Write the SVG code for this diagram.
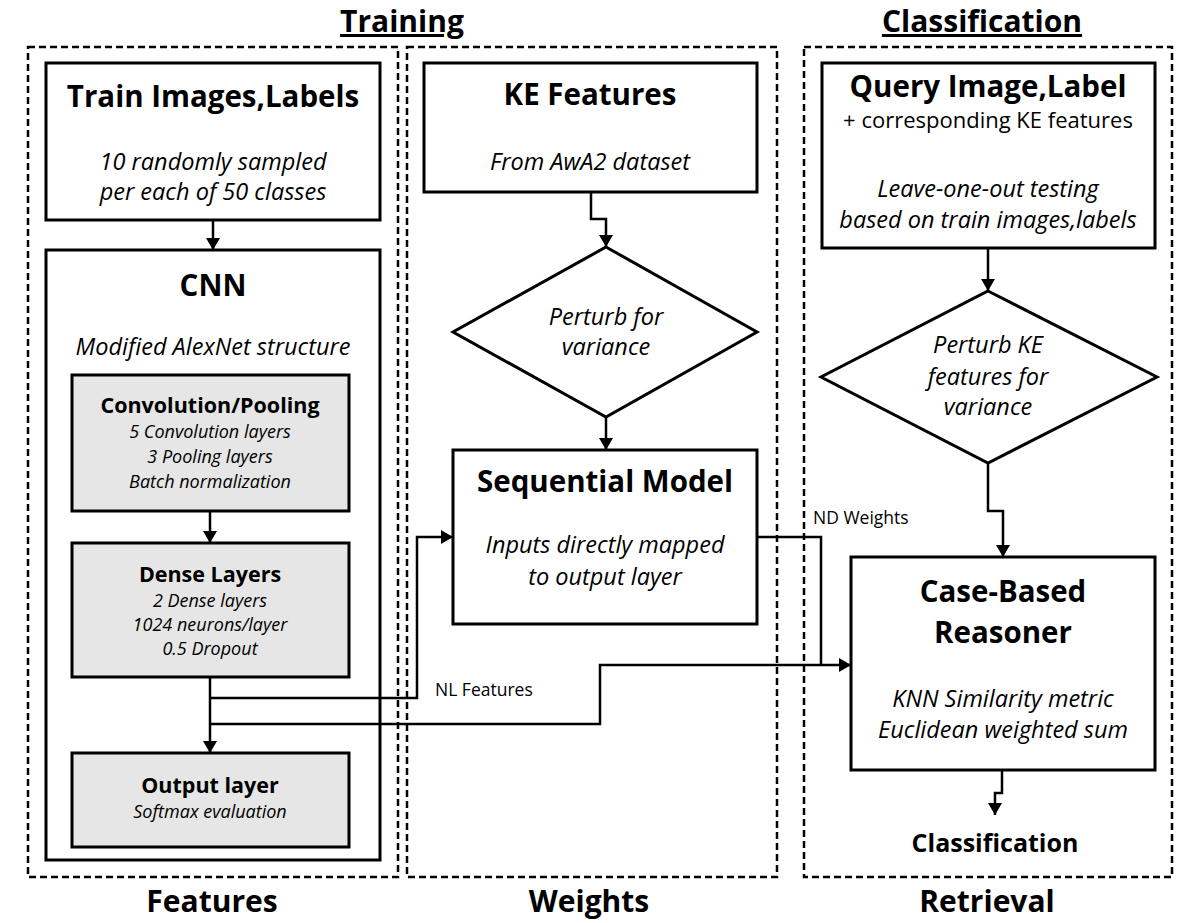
<svg xmlns="http://www.w3.org/2000/svg" width="1200" height="923" viewBox="0 0 1200 923">
<defs>
<marker id="ah" markerUnits="userSpaceOnUse" markerWidth="14" markerHeight="14" refX="12" refY="7" orient="auto">
<path d="M0,0 L12,7 L0,14 Z" fill="#000"/>
</marker>
<style>
text{font-family:"Open Sans","Liberation Sans",sans-serif;fill:#000;text-anchor:middle}
.sec{font-weight:700;font-size:30px}
.h1{font-weight:700;font-size:29.5px}
.h2{font-weight:700;font-size:21.5px}
.h3{font-weight:700;font-size:25px}
.it{font-style:italic;font-size:23.5px}
.its{font-style:italic;font-size:18px}
.sub{font-size:22px}
.lbl{font-size:17.5px;text-anchor:start}
.box{fill:#fff;stroke:#000;stroke-width:3}
.gbox{fill:#e6e6e6;stroke:#000;stroke-width:3}
.dash{fill:none;stroke:#000;stroke-width:2.5;stroke-dasharray:7,4}
.con{fill:none;stroke:#000;stroke-width:2.5}
.ul{text-decoration:underline}
</style>
</defs>
<rect width="1200" height="923" fill="#fff"/>

<g id="containers">
<rect class="dash" x="28" y="47" width="370" height="830"/>
<rect class="dash" x="407" y="47" width="370" height="830"/>
<rect class="dash" x="804" y="47" width="368" height="830"/>
</g>

<g id="section-titles">
<text class="sec ul" x="402" y="32">Training</text>
<text class="sec ul" x="982" y="32">Classification</text>
<text class="sec" x="212" y="912">Features</text>
<text class="sec" x="589" y="912">Weights</text>
<text class="sec" x="987" y="912">Retrieval</text>
</g>

<g id="train-images">
<rect class="box" x="46" y="63" width="334" height="157"/>
<text class="h1" x="213" y="107">Train Images,Labels</text>
<text class="it" x="213" y="170">10 randomly sampled</text>
<text class="it" x="213" y="200">per each of 50 classes</text>
</g>

<g id="cnn">
<rect class="box" x="46" y="250" width="334" height="610"/>
<text class="h1" x="213" y="296">CNN</text>
<text class="it" x="213" y="355">Modified AlexNet structure</text>
</g>

<g id="conv-pooling">
<rect class="gbox" x="72" y="375" width="277" height="136"/>
<text class="h2" x="210" y="413">Convolution/Pooling</text>
<text class="its" x="210" y="438">5 Convolution layers</text>
<text class="its" x="210" y="463">3 Pooling layers</text>
<text class="its" x="210" y="488">Batch normalization</text>
</g>

<g id="dense-layers">
<rect class="gbox" x="72" y="543" width="277" height="134"/>
<text class="h2" x="210" y="582">Dense Layers</text>
<text class="its" x="210" y="607">2 Dense layers</text>
<text class="its" x="210" y="631">1024 neurons/layer</text>
<text class="its" x="210" y="655">0.5 Dropout</text>
</g>

<g id="output-layer">
<rect class="gbox" x="72" y="753" width="277" height="94"/>
<text class="h2" x="210" y="793">Output layer</text>
<text class="its" x="210" y="818">Softmax evaluation</text>
</g>

<g id="ke-features">
<rect class="box" x="424" y="63" width="333" height="129"/>
<text class="h1" x="590" y="105">KE Features</text>
<text class="it" x="590" y="170">From AwA2 dataset</text>
</g>

<g id="perturb">
<polygon class="box" points="606,247 757,332 606,417 453,332"/>
<text class="it" x="606" y="325">Perturb for</text>
<text class="it" x="606" y="355">variance</text>
</g>

<g id="sequential-model">
<rect class="box" x="453" y="450" width="304" height="174"/>
<text class="h1" x="605" y="492">Sequential Model</text>
<text class="it" x="605" y="553">Inputs directly mapped</text>
<text class="it" x="605" y="585">to output layer</text>
</g>

<g id="query">
<rect class="box" x="822" y="63" width="333" height="185"/>
<text class="h1" x="988" y="97">Query Image,Label</text>
<text class="sub" x="988" y="128">+ corresponding KE features</text>
<text class="it" x="988" y="197">Leave-one-out testing</text>
<text class="it" x="988" y="228">based on train images,labels</text>
</g>

<g id="perturb-ke">
<polygon class="box" points="988,291 1157,377 988,463 821,377"/>
<text class="it" x="988" y="353">Perturb KE</text>
<text class="it" x="988" y="385">features for</text>
<text class="it" x="988" y="415">variance</text>
</g>

<g id="cbr">
<rect class="box" x="851" y="557" width="304" height="213"/>
<text class="h1" x="1003" y="602">Case-Based</text>
<text class="h1" x="1003" y="643">Reasoner</text>
<text class="it" x="1003" y="707">KNN Similarity metric</text>
<text class="it" x="1003" y="738">Euclidean weighted sum</text>
</g>

<g id="classification">
<text class="h3" x="995" y="852">Classification</text>
</g>

<g id="connectors">
<path class="con" d="M213,220 V250" marker-end="url(#ah)"/>
<path class="con" d="M210,511 V543" marker-end="url(#ah)"/>
<path class="con" d="M210,677 V753" marker-end="url(#ah)"/>
<path class="con" d="M210,698 H417 V537 H453" marker-end="url(#ah)"/>
<path class="con" d="M210,724 H600 V665 H851" marker-end="url(#ah)"/>
<path class="con" d="M757,537 H821 V665"/>
<path class="con" d="M591,192 V219 H606 V247" marker-end="url(#ah)"/>
<path class="con" d="M606,417 V450" marker-end="url(#ah)"/>
<path class="con" d="M988,248 V291" marker-end="url(#ah)"/>
<path class="con" d="M988,463 V511 H1003 V557" marker-end="url(#ah)"/>
<path class="con" d="M1002,770 V793 H995 V815" marker-end="url(#ah)"/>
<text class="lbl" x="435" y="696">NL Features</text>
<text class="lbl" x="813" y="524">ND Weights</text>
</g>
</svg>
